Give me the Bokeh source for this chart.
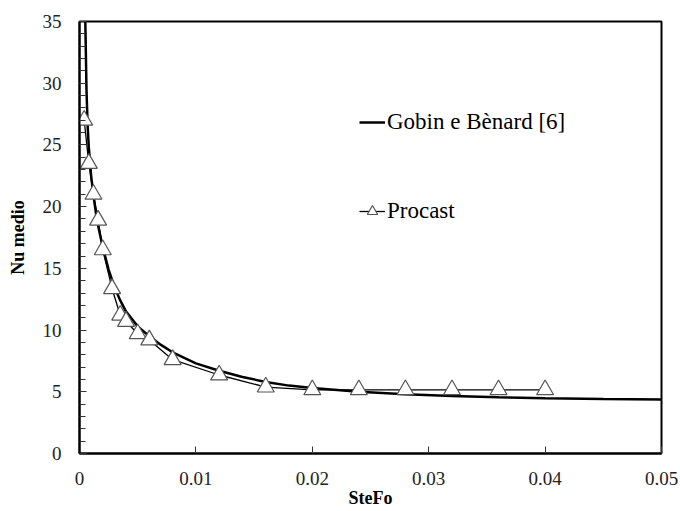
from bokeh.plotting import figure
from bokeh.models import (Range1d, SingleIntervalTicker, FixedTicker, CustomJSTickFormatter,
                          Legend, LegendItem, ColumnDataSource)
from bokeh.embed import file_html
from bokeh.resources import INLINE

# Gobin e Bènard [6] correlation curve
gobin_x = [0.00045, 0.0005, 0.0006, 0.0007, 0.0008, 0.001, 0.0012, 0.0015, 0.002, 0.0025,
           0.003, 0.0035, 0.004, 0.005, 0.006, 0.007, 0.008, 0.01, 0.012, 0.014,
           0.016, 0.018, 0.02, 0.024, 0.028, 0.032, 0.036, 0.04, 0.045, 0.05]
gobin_nu = [38.0, 35.0, 29.5, 26.5, 24.8, 22.5, 20.9, 18.9, 16.7, 14.9,
            13.5, 12.4, 11.5, 10.3, 9.5, 8.8, 8.2, 7.3, 6.7, 6.2,
            5.8, 5.5, 5.3, 5.0, 4.8, 4.66, 4.56, 4.48, 4.42, 4.38]

# Procast simulation points
procast_x = [0.0004, 0.0008, 0.0012, 0.0016, 0.002, 0.0028, 0.0035, 0.004, 0.005, 0.006,
             0.008, 0.012, 0.016, 0.02, 0.024, 0.028, 0.032, 0.036, 0.04]
procast_nu = [27.0, 23.5, 21.0, 18.9, 16.5, 13.35, 11.2, 10.7, 9.7, 9.2,
              7.6, 6.36, 5.38, 5.16, 5.16, 5.16, 5.16, 5.16, 5.16]

x_ticks = [0, 0.01, 0.02, 0.03, 0.04, 0.05]

FONT = "Times New Roman"

p = figure(width=680, height=511, output_backend="svg", toolbar_location=None,
           x_range=Range1d(0, 0.05), y_range=Range1d(0, 35),
           min_border_left=79, min_border_right=19, min_border_top=21, min_border_bottom=58,
           background_fill_color="white", border_fill_color="white")

p.xgrid.visible = False
p.ygrid.visible = False
p.outline_line_color = "black"
p.outline_line_width = 2
p.outline_line_alpha = 1

r_gobin = p.line(gobin_x, gobin_nu, line_color="black", line_width=2.5)
src = ColumnDataSource(dict(x=procast_x, y=procast_nu))
r_pline = p.line("x", "y", source=src, line_color="black", line_width=1.3)
r_pts = p.scatter("x", "y", source=src, marker="triangle", size=17,
                  fill_color="white", line_color="#555555", line_width=1.2)

# axes
for ax in (p.xaxis[0], p.yaxis[0]):
    ax.axis_line_color = "black"
    ax.axis_line_width = 2
    ax.major_tick_in = 7
    ax.major_tick_out = 0
    ax.minor_tick_in = 6
    ax.minor_tick_out = 0
    ax.major_tick_line_color = "#333333"
    ax.minor_tick_line_color = "#333333"
    ax.major_label_text_font = FONT
    ax.major_label_text_font_size = "19px"
    ax.major_label_text_color = "#222222"
    ax.axis_label_text_font = FONT
    ax.axis_label_text_font_size = "18px"
    ax.axis_label_text_font_style = "bold"
    ax.axis_label_text_color = "black"

p.xaxis.ticker = FixedTicker(ticks=x_ticks)
p.xaxis.minor_tick_line_color = None
p.xaxis.formatter = CustomJSTickFormatter(code="return String(Math.round(tick*1000)/1000);")
p.xaxis.axis_label = "SteFo"
p.xaxis.major_label_standoff = 18
p.xaxis.axis_label_standoff = 0

p.yaxis.ticker = SingleIntervalTicker(interval=5, num_minor_ticks=5)
p.yaxis.axis_label = "Nu medio"
p.yaxis.major_label_standoff = 18
p.yaxis.axis_label_standoff = 12

legend = Legend(items=[LegendItem(label="Gobin e Bènard [6]", renderers=[r_gobin]),
                       LegendItem(label="Procast", renderers=[r_pline, r_pts])],
                location=(280, 227), orientation="vertical",
                label_text_font=FONT, label_text_font_size="23px", label_text_color="black",
                glyph_width=26, glyph_height=30, label_height=30, spacing=59,
                label_standoff=2, padding=0, margin=0,
                border_line_color=None, background_fill_alpha=0)
p.add_layout(legend, "center")

open("out.html", "w").write(file_html(p, INLINE))
